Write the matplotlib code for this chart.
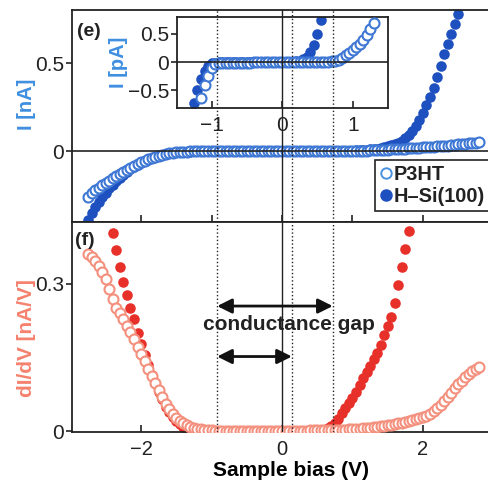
import numpy as np
import matplotlib
matplotlib.use('Agg')
import matplotlib.pyplot as plt
from matplotlib.lines import Line2D

nan = np.nan

# sample bias (V), panels (e) and (f)
bias = [
    -2.75, -2.70, -2.65, -2.60, -2.55, -2.50, -2.45, -2.40, -2.35, -2.30,
    -2.25, -2.20, -2.15, -2.10, -2.05, -2.00, -1.95, -1.90, -1.85, -1.80,
    -1.75, -1.70, -1.65, -1.60, -1.55, -1.50, -1.45, -1.40, -1.35, -1.30,
    -1.25, -1.20, -1.15, -1.10, -1.05, -1.00, -0.95, -0.90, -0.85, -0.80,
    -0.75, -0.70, -0.65, -0.60, -0.55, -0.50, -0.45, -0.40, -0.35, -0.30,
    -0.25, -0.20, -0.15, -0.10, -0.05, 0.00, 0.05, 0.10, 0.15, 0.20,
    0.25, 0.30, 0.35, 0.40, 0.45, 0.50, 0.55, 0.60, 0.65, 0.70,
    0.75, 0.80, 0.85, 0.90, 0.95, 1.00, 1.05, 1.10, 1.15, 1.20,
    1.25, 1.30, 1.35, 1.40, 1.45, 1.50, 1.55, 1.60, 1.65, 1.70,
    1.75, 1.80, 1.85, 1.90, 1.95, 2.00, 2.05, 2.10, 2.15, 2.20,
    2.25, 2.30, 2.35, 2.40, 2.45, 2.50, 2.55, 2.60, 2.65, 2.70,
    2.75, 2.80]

# (e) current, nA
p3ht_I = [
    -0.257, -0.236, -0.219, -0.205, -0.192, -0.179, -0.166, -0.153, -0.140, -0.127,
    -0.115, -0.103, -0.092, -0.081, -0.071, -0.062, -0.053, -0.045, -0.037, -0.030,
    -0.024, -0.019, -0.014, -0.010, -0.007, -0.005, -0.003, -0.002, -0.001, 0.000,
    0.000, 0.000, 0.000, 0.000, 0.000, 0.000, 0.000, 0.000, 0.000, 0.000,
    0.000, 0.000, 0.000, 0.000, 0.000, 0.000, 0.000, 0.000, 0.000, 0.000,
    0.000, 0.000, 0.000, 0.000, 0.000, 0.000, 0.000, 0.000, 0.000, 0.000,
    0.000, 0.000, 0.000, 0.000, 0.000, 0.000, 0.000, 0.000, 0.000, 0.000,
    0.000, 0.000, 0.001, 0.001, 0.001, 0.002, 0.002, 0.003, 0.003, 0.004,
    0.005, 0.006, 0.007, 0.008, 0.009, 0.010, 0.011, 0.012, 0.013, 0.015,
    0.016, 0.017, 0.019, 0.020, 0.021, 0.023, 0.024, 0.026, 0.027, 0.029,
    0.030, 0.032, 0.033, 0.035, 0.037, 0.039, 0.041, 0.043, 0.045, 0.047,
    0.050, 0.053]

hsi_I = [
    -0.390, -0.350, -0.315, -0.285, -0.260, -0.235, -0.210, -0.190, -0.170, -0.150,
    -0.133, -0.117, -0.102, -0.089, -0.077, -0.066, -0.056, -0.047, -0.039, -0.032,
    -0.026, -0.021, -0.016, -0.012, -0.009, -0.006, -0.004, -0.003, -0.002, -0.001,
    0.000, 0.000, 0.000, 0.000, 0.000, 0.000, 0.000, 0.000, 0.000, 0.000,
    0.000, 0.000, 0.000, 0.000, 0.000, 0.000, 0.000, 0.000, 0.000, 0.000,
    0.000, 0.000, 0.000, 0.000, 0.000, 0.000, 0.000, 0.000, 0.000, 0.000,
    0.000, 0.000, 0.000, 0.000, 0.000, 0.000, 0.000, 0.000, 0.000, 0.000,
    0.001, 0.001, 0.002, 0.002, 0.003, 0.004, 0.005, 0.006, 0.007, 0.009,
    0.011, 0.013, 0.016, 0.019, 0.023, 0.028, 0.034, 0.041, 0.050, 0.061,
    0.074, 0.090, 0.115, 0.145, 0.175, 0.215, 0.260, 0.310, 0.360, 0.420,
    0.485, 0.550, 0.610, 0.665, 0.720, 0.775, nan, nan, nan, nan,
    nan, nan]

# (f) dI/dV, nA/V
p3ht_dIdV = [
    0.362, 0.355, 0.347, 0.337, 0.325, 0.310, 0.290, 0.270, 0.252, 0.240,
    0.228, 0.215, 0.203, 0.188, 0.172, 0.157, 0.142, 0.127, 0.113, 0.098,
    0.083, 0.069, 0.056, 0.045, 0.035, 0.027, 0.021, 0.016, 0.012, 0.009,
    0.007, 0.005, 0.004, 0.003, 0.002, 0.002, 0.001, 0.001, 0.001, 0.001,
    0.001, 0.001, 0.001, 0.001, 0.001, 0.001, 0.001, 0.001, 0.001, 0.001,
    0.001, 0.001, 0.001, 0.001, 0.001, 0.001, 0.001, 0.001, 0.001, 0.001,
    0.001, 0.001, 0.001, 0.002, 0.002, 0.002, 0.002, 0.002, 0.002, 0.002,
    0.003, 0.003, 0.003, 0.003, 0.004, 0.004, 0.005, 0.005, 0.006, 0.007,
    0.007, 0.008, 0.009, 0.010, 0.011, 0.012, 0.013, 0.014, 0.016, 0.017,
    0.019, 0.020, 0.022, 0.024, 0.026, 0.028, 0.031, 0.035, 0.040, 0.046,
    0.053, 0.061, 0.069, 0.078, 0.087, 0.095, 0.103, 0.110, 0.117, 0.122,
    0.127, 0.131]

hsi_dIdV = [
    nan, nan, nan, nan, nan, nan, nan, 0.405, 0.369, 0.335,
    0.305, 0.277, 0.252, 0.229, 0.200, 0.178, 0.155, 0.134, 0.115, 0.097,
    0.080, 0.065, 0.050, 0.038, 0.028, 0.020, 0.014, 0.009, 0.006, 0.004,
    0.002, 0.001, 0.000, 0.000, 0.000, 0.000, 0.000, 0.000, 0.000, 0.000,
    0.000, 0.000, 0.000, 0.000, 0.000, 0.000, 0.000, 0.000, 0.000, 0.000,
    0.000, 0.000, 0.000, 0.000, 0.000, 0.000, 0.000, 0.000, 0.000, 0.000,
    0.000, 0.000, 0.000, 0.000, 0.000, 0.000, 0.001, 0.003, 0.006, 0.011,
    0.017, 0.025, 0.036, 0.046, 0.057, 0.068, 0.080, 0.094, 0.108, 0.121,
    0.133, 0.146, 0.160, 0.176, 0.195, 0.215, 0.232, 0.262, 0.297, 0.335,
    0.372, 0.408, nan, nan, nan, nan, nan, nan, nan, nan,
    nan, nan, nan, nan, nan, nan, nan, nan, nan, nan,
    nan, nan]

# inset, current in pA
bias_in = [
    -1.25, -1.20, -1.15, -1.10, -1.05, -1.00, -0.95, -0.90, -0.85, -0.80,
    -0.75, -0.70, -0.65, -0.60, -0.55, -0.50, -0.45, -0.40, -0.35, -0.30,
    -0.25, -0.20, -0.15, -0.10, -0.05, 0.00, 0.05, 0.10, 0.15, 0.20,
    0.25, 0.30, 0.35, 0.40, 0.45, 0.50, 0.55, 0.60, 0.65, 0.70,
    0.75, 0.80, 0.85, 0.90, 0.95, 1.00, 1.05, 1.10, 1.15, 1.20,
    1.25, 1.30]

p3ht_in = [
    nan, nan, -0.64, -0.40, -0.24, -0.10, -0.03, -0.015, -0.01, -0.01,
    -0.01, -0.01, -0.01, -0.008, -0.008, -0.006, -0.006, -0.005, -0.004, -0.003,
    -0.002, -0.001, 0.000, 0.000, 0.001, 0.002, 0.002, 0.003, 0.004, 0.005,
    0.005, 0.006, 0.007, 0.008, 0.008, 0.009, 0.010, 0.011, 0.012, 0.015,
    0.020, 0.040, 0.080, 0.130, 0.170, 0.210, 0.270, 0.330, 0.400, 0.480,
    0.580, 0.700]

hsi_in = [
    -0.72, -0.50, -0.30, -0.15, -0.06, -0.02, -0.01, 0.0, 0.0, 0.0,
    0.0, 0.0, 0.0, 0.0, 0.0, 0.0, 0.0, 0.0, 0.0, 0.0,
    0.0, 0.0, 0.0, 0.0, 0.0, 0.005, 0.005, 0.01, 0.01, 0.015,
    0.02, 0.05, 0.10, 0.18, 0.30, 0.50, 0.75, nan, nan, nan,
    nan, nan, nan, nan, nan, nan, nan, nan, nan, nan,
    nan, nan]

gap_lines = [-0.92, 0.14, 0.72]

BLUE_OPEN = '#3f78d4'
BLUE_LEG = '#4a92e0'
BLUE_FILL = '#1e50c0'
RED_OPEN = '#f4907e'
RED_FILL = '#e8302a'
INK = '#222222'

plt.rcParams['font.family'] = ['Liberation Sans', 'DejaVu Sans']
plt.rcParams['font.size'] = 15
plt.rcParams['text.color'] = INK
plt.rcParams['xtick.color'] = INK
plt.rcParams['ytick.color'] = INK

W, H = 489, 484
fig = plt.figure(figsize=(W / 100, H / 100), dpi=100)


def px_axes(x0, y0, x1, y1):
    return fig.add_axes([x0 / W, 1 - y1 / H, (x1 - x0) / W, (y1 - y0) / H])


ax_e = px_axes(72, 10, 492, 222)
ax_f = px_axes(72, 222, 492, 432)
ax_in = px_axes(177, 17, 388, 108)


def style(ax):
    for s in ax.spines.values():
        s.set_color(INK)
        s.set_linewidth(1.3)
    ax.tick_params(axis='x', direction='in', length=5, width=1.2)
    ax.tick_params(axis='y', direction='out', length=4, width=1.2, pad=1.5)


def draw_open(ax, x, y, c):
    ax.plot(x, y, 'o', ms=7.2, mfc='white', mec=c, mew=1.5, zorder=3)


def draw_fill(ax, x, y, c):
    ax.plot(x, y, 'o', ms=7.6, mfc=c, mec=c, mew=0, zorder=2)


def vlines(ax):
    ax.axvline(0, color=INK, lw=1, zorder=4)
    for g in gap_lines:
        ax.axvline(g, color=INK, lw=1, ls=':', zorder=4)


# ---- (e) I-V
style(ax_e)
ax_e.spines['right'].set_visible(False)
draw_fill(ax_e, bias, hsi_I, BLUE_FILL)
draw_open(ax_e, bias, p3ht_I, BLUE_OPEN)
ax_e.axhline(0, color=INK, lw=1.2, zorder=4)
vlines(ax_e)
ax_e.set_xlim(-2.98, 2.98)
ax_e.set_ylim(-0.40, 0.80)
ax_e.set_xticks([-2, -1, 0, 1, 2])
ax_e.set_xticklabels([])
ax_e.set_yticks([0, 0.5])
ax_e.set_yticklabels(['0', '0.5'])
ax_e.set_ylabel('I [nA]', color='#3f8fe0', fontweight='bold', fontsize=14.5)
ax_e.yaxis.set_label_coords(-0.086, 0.557)
ax_e.text(0.012, 0.90, '(e)', transform=ax_e.transAxes, ha='left', va='center',
          fontweight='bold', fontsize=14)

hl = [Line2D([], [], ls='', marker='o', ms=7.5, mfc='white', mec=BLUE_LEG, mew=1.4),
      Line2D([], [], ls='', marker='o', ms=8, mfc=BLUE_FILL, mec=BLUE_FILL)]
leg = ax_e.legend(hl, ['P3HT', 'H\u2013Si(100)'], loc='upper left',
                  bbox_to_anchor=(0.721, 0.292), borderaxespad=0, fancybox=False,
                  framealpha=1, edgecolor=INK, handlelength=0.6, handletextpad=0.1,
                  labelspacing=0.15, borderpad=0.25,
                  prop={'weight': 'bold', 'size': 14.3})
leg.get_frame().set_linewidth(1.2)
leg.set_zorder(6)

# ---- (f) dI/dV
style(ax_f)
ax_f.spines['right'].set_visible(False)
draw_fill(ax_f, bias, hsi_dIdV, RED_FILL)
draw_open(ax_f, bias, p3ht_dIdV, RED_OPEN)
vlines(ax_f)
ax_f.set_xlim(-2.98, 2.98)
ax_f.set_ylim(-0.002, 0.4265)
ax_f.set_xticks([-2, 0, 2])
ax_f.set_xticklabels(['\u22122', '0', '2'])
ax_f.tick_params(axis='x', pad=6, labelsize=14.5)
ax_f.set_yticks([0, 0.3])
ax_f.set_yticklabels(['0', '0.3'])
ax_f.set_ylabel('dI/dV [nA/V]', color='#f5826e', fontweight='bold', fontsize=15)
ax_f.yaxis.set_label_coords(-0.086, 0.448)
ax_f.set_xlabel('Sample bias (V)', fontweight='bold', fontsize=15)
ax_f.xaxis.set_label_coords(0.521, -0.136)
ax_f.text(0.007, 0.91, '(f)', transform=ax_f.transAxes, ha='left', va='center',
          fontweight='bold', fontsize=14)

arrow = dict(arrowstyle='<|-|>', color='#111111', lw=2, mutation_scale=22,
             shrinkA=0, shrinkB=0)
ax_f.annotate('', xy=(gap_lines[2], 0.255), xytext=(gap_lines[0], 0.255),
              arrowprops=arrow, zorder=5)
ax_f.annotate('', xy=(gap_lines[1], 0.152), xytext=(gap_lines[0], 0.152),
              arrowprops=arrow, zorder=5)
ax_f.text(0.10, 0.218, 'conductance gap', ha='center', va='center',
          fontweight='bold', fontsize=15, zorder=5)

# ---- inset I-V in pA
style(ax_in)
ax_in.set_zorder(5)
ax_in.set_facecolor('white')
draw_fill(ax_in, bias_in, hsi_in, BLUE_FILL)
draw_open(ax_in, bias_in, p3ht_in, BLUE_OPEN)
ax_in.axhline(0, color=INK, lw=1.2, zorder=4)
vlines(ax_in)
ax_in.set_xlim(-1.49, 1.50)
ax_in.set_ylim(-0.81, 0.80)
ax_in.set_xticks([-1, 0, 1])
ax_in.set_xticklabels(['\u22121', '0', '1'])
ax_in.tick_params(axis='x', pad=6)
ax_in.set_yticks([-0.5, 0, 0.5])
ax_in.set_yticklabels(['\u22120.5', '0', '0.5'])
ax_in.set_ylabel('I [pA]', color='#3f8fe0', fontweight='bold', fontsize=14.5,
                 labelpad=0)

fig.savefig('out.png', dpi=100)
